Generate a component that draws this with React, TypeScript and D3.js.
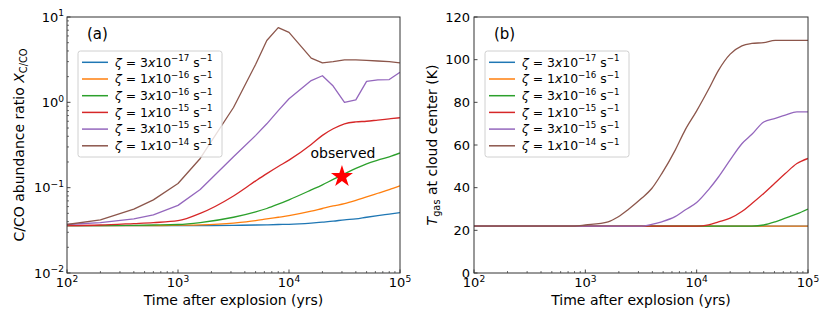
import * as d3 from "d3";
import React, { useEffect, useRef } from "react";

// zeta values for the six runs
const zetaMant = ["3", "1", "3", "1", "3", "1"];
const zetaExp = ["\u221217", "\u221216", "\u221216", "\u221215", "\u221215", "\u221214"];
const colors = ["#1f77b4", "#ff7f0e", "#2ca02c", "#d62728", "#9467bd", "#8c564b"];

// panel (a): C/CO abundance ratio vs time
const tA = [100, 200, 400, 600, 1000, 1585, 3162, 5012, 6310, 8000, 10000, 15850, 20000, 25000, 31620, 40000, 50000, 63100, 80000, 100000];
const blueA = [0.036, 0.036, 0.036, 0.036, 0.036, 0.036, 0.0362, 0.0365, 0.0367, 0.037, 0.0372, 0.0385, 0.0395, 0.0405, 0.042, 0.043, 0.045, 0.047, 0.049, 0.051];
const orangeA = [0.036, 0.036, 0.036, 0.036, 0.0363, 0.0367, 0.0385, 0.041, 0.043, 0.045, 0.047, 0.053, 0.057, 0.061, 0.065, 0.071, 0.078, 0.086, 0.095, 0.105];
const greenA = [0.036, 0.036, 0.0362, 0.0365, 0.037, 0.039, 0.045, 0.052, 0.057, 0.064, 0.072, 0.094, 0.108, 0.125, 0.145, 0.168, 0.19, 0.21, 0.23, 0.255];
const redA = [0.036, 0.0365, 0.038, 0.039, 0.041, 0.05, 0.08, 0.12, 0.146, 0.177, 0.21, 0.32, 0.41, 0.49, 0.56, 0.59, 0.6, 0.62, 0.64, 0.66];
const purpleA = [0.037, 0.039, 0.043, 0.048, 0.062, 0.095, 0.23, 0.41, 0.56, 0.8, 1.1, 1.8, 2.05, 1.55, 1.0, 1.07, 1.76, 1.83, 1.85, 2.25];
const brownA = [0.037, 0.042, 0.056, 0.072, 0.112, 0.22, 0.87, 2.8, 5.3, 7.5, 6.6, 3.3, 2.9, 3.0, 3.15, 3.15, 3.1, 3.05, 3.0, 2.9];

// panel (b): gas temperature at cloud center vs time
const tB = [100, 800, 1000, 1600, 1980, 2430, 3200, 3950, 4860, 6400, 7870, 10000, 12760, 15700, 20000, 25460, 31340, 40000, 50800, 62500, 79500, 100000];
const blueB = [22, 22, 22, 22, 22, 22, 22, 22, 22, 22, 22, 22, 22, 22, 22, 22, 22, 22, 22, 22, 22, 22];
const orangeB = [22, 22, 22, 22, 22, 22, 22, 22, 22, 22, 22, 22, 22, 22, 22, 22, 22, 22, 22, 22, 22, 22];
const greenB = [22, 22, 22, 22, 22, 22, 22, 22, 22, 22, 22, 22, 22, 22, 22, 22, 22, 22.5, 24, 25.7, 27.7, 30];
const redB = [22, 22, 22, 22, 22, 22, 22, 22, 22, 22, 22, 22, 22.6, 24, 25.7, 28.8, 32.6, 37.3, 42.3, 46.6, 51.3, 53.7];
const purpleB = [22, 22, 22, 22, 22, 22, 22, 22.8, 24, 26.4, 29.5, 33, 39, 45, 53, 60.6, 65, 70.8, 72.5, 74, 75.5, 75.5];
const brownB = [22, 22, 22.5, 24, 26.4, 29.8, 35, 39.6, 46.6, 57.5, 67, 76, 86, 95, 102.6, 106.5, 107.6, 108, 109, 109, 109, 109];

// observed point
const obsT = 30000;
const obsV = 0.135;

// tick labels
const xTickExps = [2, 3, 4, 5];
const yTickExpsA = [-2, -1, 0, 1];
const yTicksB = [0, 20, 40, 60, 80, 100, 120];

const FONT = "DejaVu Sans";

function App() {
    const ref = useRef<SVGSVGElement | null>(null);

    function drawChart() {
        const svg = d3.select(ref.current);
        svg.selectAll("*").remove();

        const top = 17;
        const bottom = 273;
        const fsTick = 13;
        const fsLabel = 14;

        function sup(text: any, base: string, exp: string, fs: number) {
            text.append("tspan").text(base);
            text.append("tspan")
                .attr("dy", -fs * 0.42)
                .attr("font-size", fs * 0.7)
                .text(exp);
        }

        function panel(opts: any) {
            const { left, right, y, seriesT, series, tag, clipId, sharp } = opts;
            const x = d3.scaleLog().domain([1e2, 1e5]).range([left, right]);
            const g = svg.append("g");

            g.append("clipPath")
                .attr("id", clipId)
                .append("rect")
                .attr("x", left)
                .attr("y", top)
                .attr("width", right - left)
                .attr("height", bottom - top);

            // lines: smooth runs get a monotone curve, the ones with kinks stay linear
            series.forEach((s: number[], i: number) => {
                const line = d3
                    .line<number>()
                    .x((d, j) => x(seriesT[j]))
                    .y((d) => y(d))
                    .curve(sharp.includes(i) ? d3.curveLinear : d3.curveMonotoneX);
                g.append("path")
                    .attr("d", line(s))
                    .attr("fill", "none")
                    .attr("stroke", colors[i])
                    .attr("stroke-width", 1.3)
                    .attr("stroke-linejoin", "round")
                    .attr("clip-path", `url(#${clipId})`);
            });

            if (opts.extra) opts.extra(g, x);

            // frame
            g.append("rect")
                .attr("x", left)
                .attr("y", top)
                .attr("width", right - left)
                .attr("height", bottom - top)
                .attr("fill", "none")
                .attr("stroke", "#333")
                .attr("stroke-width", 1);

            // x ticks (inward)
            x.ticks().forEach((t) => {
                const major = Math.abs(Math.log10(t) - Math.round(Math.log10(t))) < 1e-6;
                g.append("line")
                    .attr("x1", x(t))
                    .attr("x2", x(t))
                    .attr("y1", bottom)
                    .attr("y2", bottom - (major ? 3.5 : 2))
                    .attr("stroke", "#333")
                    .attr("stroke-width", major ? 0.9 : 0.7);
            });
            xTickExps.forEach((e) => {
                const txt = g.append("text")
                    .attr("x", x(Math.pow(10, e)))
                    .attr("y", 287)
                    .attr("text-anchor", "middle")
                    .attr("font-family", FONT)
                    .attr("font-size", fsTick)
                    .attr("fill", "#000");
                sup(txt, "10", String(e), fsTick);
            });

            g.append("text")
                .attr("x", (left + right) / 2)
                .attr("y", 305)
                .attr("text-anchor", "middle")
                .attr("font-family", FONT)
                .attr("font-size", fsLabel)
                .text("Time after explosion (yrs)");

            g.append("text")
                .attr("x", left + 20)
                .attr("y", 39)
                .attr("font-family", FONT)
                .attr("font-size", 15)
                .text(tag);

            // legend
            const lx = left + 11;
            const ly = 51;
            g.append("rect")
                .attr("x", lx)
                .attr("y", ly)
                .attr("width", 144)
                .attr("height", 106)
                .attr("rx", 2.5)
                .attr("fill", "white")
                .attr("fill-opacity", 0.8)
                .attr("stroke", "#d0d0d0")
                .attr("stroke-width", 1);
            zetaMant.forEach((m, i) => {
                const yy = ly + 11.3 + i * 16.7;
                g.append("line")
                    .attr("x1", lx + 4)
                    .attr("x2", lx + 30)
                    .attr("y1", yy)
                    .attr("y2", yy)
                    .attr("stroke", colors[i])
                    .attr("stroke-width", 1.5);
                const fs = 12.4;
                const txt = g.append("text")
                    .attr("x", lx + 37)
                    .attr("y", yy + 4.3)
                    .attr("font-family", FONT)
                    .attr("font-size", fs);
                txt.append("tspan").attr("font-style", "italic").text("\u03b6");
                txt.append("tspan").text(` = ${m}`);
                txt.append("tspan").attr("font-style", "italic").text("x");
                txt.append("tspan").text("10");
                txt.append("tspan").attr("dy", -fs * 0.42).attr("font-size", fs * 0.7).text(zetaExp[i]);
                txt.append("tspan").attr("dy", fs * 0.42).text(" s");
                txt.append("tspan").attr("dy", -fs * 0.42).attr("font-size", fs * 0.7).text("\u22121");
            });

            return g;
        }

        // panel (a)
        const yA = d3.scaleLog().domain([1e-2, 1e1]).range([bottom, top]);
        const gA = panel({
            left: 67,
            right: 400,
            y: yA,
            seriesT: tA,
            series: [blueA, orangeA, greenA, redA, purpleA, brownA],
            sharp: [4, 5],
            tag: "(a)",
            clipId: "clipA",
            extra: (g: any, x: any) => {
                g.append("path")
                    .attr("d", d3.symbol(d3.symbolStar, 150)())
                    .attr("transform", `translate(${x(obsT)},${yA(obsV)})`)
                    .attr("fill", "#ff0000");
                g.append("text")
                    .attr("x", x(obsT) + 1)
                    .attr("y", 158)
                    .attr("text-anchor", "middle")
                    .attr("font-family", FONT)
                    .attr("font-size", 14)
                    .text("observed");
            },
        });
        yA.ticks().forEach((v) => {
            const major = Math.abs(Math.log10(v) - Math.round(Math.log10(v))) < 1e-6;
            gA.append("line")
                .attr("x1", 67)
                .attr("x2", 67 + (major ? 3.5 : 2))
                .attr("y1", yA(v))
                .attr("y2", yA(v))
                .attr("stroke", "#333")
                .attr("stroke-width", major ? 0.9 : 0.7);
        });
        yTickExpsA.forEach((e) => {
            const txt = gA.append("text")
                .attr("x", 64)
                .attr("y", yA(Math.pow(10, e)) + 4.7)
                .attr("text-anchor", "end")
                .attr("font-family", FONT)
                .attr("font-size", fsTick);
            sup(txt, "10", e < 0 ? "\u2212" + Math.abs(e) : String(e), fsTick);
        });
        const labA = gA.append("text")
            .attr("transform", `translate(24,${(top + bottom) / 2}) rotate(-90)`)
            .attr("text-anchor", "middle")
            .attr("font-family", FONT)
            .attr("font-size", fsLabel);
        labA.append("tspan").text("C/CO abundance ratio ");
        labA.append("tspan").attr("font-style", "italic").text("X");
        labA.append("tspan").attr("dy", 3).attr("font-size", fsLabel * 0.7).text("C/CO");

        // panel (b)
        const yB = d3.scaleLinear().domain([0, 120]).range([bottom, top]);
        const gB = panel({
            left: 474,
            right: 808,
            y: yB,
            seriesT: tB,
            series: [blueB, orangeB, greenB, redB, purpleB, brownB],
            sharp: [],
            tag: "(b)",
            clipId: "clipB",
        });
        yTicksB.forEach((v) => {
            gB.append("line")
                .attr("x1", 474)
                .attr("x2", 477.5)
                .attr("y1", yB(v))
                .attr("y2", yB(v))
                .attr("stroke", "#333")
                .attr("stroke-width", 0.9);
            gB.append("text")
                .attr("x", 470)
                .attr("y", yB(v) + 4.7)
                .attr("text-anchor", "end")
                .attr("font-family", FONT)
                .attr("font-size", fsTick)
                .text(String(v));
        });
        const labB = gB.append("text")
            .attr("transform", `translate(437,${(top + bottom) / 2}) rotate(-90)`)
            .attr("text-anchor", "middle")
            .attr("font-family", FONT)
            .attr("font-size", fsLabel);
        labB.append("tspan").attr("font-style", "italic").text("T");
        labB.append("tspan").attr("dy", 3).attr("font-size", fsLabel * 0.7).text("gas");
        labB.append("tspan").attr("dy", -3).text(" at cloud center (K)");
    }

    useEffect(() => {
        drawChart();
    }, []);

    return (
        <svg
            ref={ref}
            width={830}
            height={320}
            style={{ position: "absolute", left: 0, top: 0, background: "white" }}
        />
    );
}

export default App;
